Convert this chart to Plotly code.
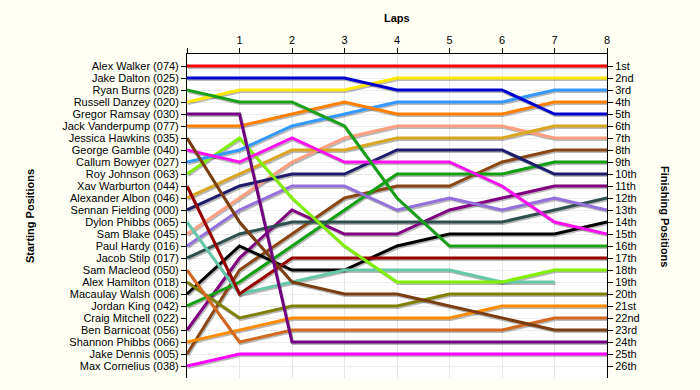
import plotly.graph_objects as go

laps = [0, 1, 2, 3, 4, 5, 6, 7, 8]
lap_labels = ["", "1", "2", "3", "4", "5", "6", "7", "8"]

starters = [
    "Alex Walker (074)", "Jake Dalton (025)", "Ryan Burns (028)", "Russell Danzey (020)",
    "Gregor Ramsay (030)", "Jack Vanderpump (077)", "Jessica Hawkins (035)", "George Gamble (040)",
    "Callum Bowyer (027)", "Roy Johnson (063)", "Xav Warburton (044)", "Alexander Albon (046)",
    "Sennan Fielding (000)", "Dylon Phibbs (065)", "Sam Blake (045)", "Paul Hardy (016)",
    "Jacob Stilp (017)", "Sam Macleod (050)", "Alex Hamilton (018)", "Macaulay Walsh (006)",
    "Jordan King (042)", "Craig Mitchell (022)", "Ben Barnicoat (056)", "Shannon Phibbs (066)",
    "Jake Dennis (005)", "Max Cornelius (038)",
]
finish_labels = [
    "1st", "2nd", "3rd", "4th", "5th", "6th", "7th", "8th", "9th", "10th", "11th", "12th", "13th",
    "14th", "15th", "16th", "17th", "18th", "19th", "20th", "21st", "22nd", "23rd", "24th", "25th", "26th",
]

# Position of each driver at the end of each lap (lap 0 = grid)
walker     = [1, 1, 1, 1, 1, 1, 1, 1, 1]
dalton     = [2, 2, 2, 2, 3, 3, 3, 5, 5]
burns      = [3, 4, 4, 6, 12, 16, 16, 16, 16]
danzey     = [4, 3, 3, 3, 2, 2, 2, 2, 2]
ramsay     = [5, 5, 24, 24, 24, 24, 24, 24, 24]
vanderpump = [6, 6, 5, 4, 5, 5, 5, 4, 4]
hawkins    = [7, 14, 19, 20, 20, 21, 22, 23, 23]
gamble     = [8, 9, 7, 9, 9, 9, 11, 14, 15]
bowyer     = [9, 8, 6, 5, 4, 4, 4, 3, 3]
johnson    = [10, 7, 12, 16, 19, 19, 19, 18, 18]
warburton  = [11, 20, 17, 17, 17, 17, 17, 17, 17]
albon      = [12, 10, 8, 8, 7, 7, 7, 6, 6]
fielding   = [13, 11, 10, 10, 8, 8, 8, 10, 10]
d_phibbs   = [14, 20, 19, 18, 18, 18, 19, 19]
blake      = [15, 12, 9, 7, 6, 6, 6, 7, 7]
hardy      = [16, 13, 11, 11, 13, 12, 13, 12, 13]
stilp      = [17, 15, 14, 14, 14, 14, 14, 13, 12]
macleod    = [18, 24, 23, 23, 23, 23, 23, 22, 22]
hamilton   = [19, 22, 21, 21, 21, 20, 20, 20, 20]
walsh      = [20, 16, 18, 18, 16, 15, 15, 15, 14]
king       = [21, 19, 16, 13, 10, 10, 10, 9, 9]
barnicoat  = [23, 17, 13, 15, 15, 13, 12, 11, 11]
s_phibbs   = [24, 23, 22, 22, 22, 22, 21, 21, 21]
dennis     = [25, 18, 15, 12, 11, 11, 9, 8, 8]
cornelius  = [26, 25, 25, 25, 25, 25, 25, 25, 25]

series = [
    (starters[0], walker, "#FF0000"),
    (starters[1], dalton, "#0000D0"),
    (starters[2], burns, "#18A018"),
    (starters[3], danzey, "#FFE800"),
    (starters[4], ramsay, "#700080"),
    (starters[5], vanderpump, "#FF8000"),
    (starters[6], hawkins, "#7A3C10"),
    (starters[7], gamble, "#FF10F0"),
    (starters[8], bowyer, "#3399FF"),
    (starters[9], johnson, "#80F000"),
    (starters[10], warburton, "#990000"),
    (starters[11], albon, "#DAA520"),
    (starters[12], fielding, "#1C1C6C"),
    (starters[13], d_phibbs, "#66C8AA"),
    (starters[14], blake, "#FFA080"),
    (starters[15], hardy, "#9370DB"),
    (starters[16], stilp, "#2F4F4F"),
    (starters[17], macleod, "#D2691E"),
    (starters[18], hamilton, "#808000"),
    (starters[19], walsh, "#000000"),
    (starters[20], king, "#10A010"),
    (starters[22], barnicoat, "#800080"),
    (starters[23], s_phibbs, "#FF8C00"),
    (starters[24], dennis, "#8B4513"),
    (starters[25], cornelius, "#FF00FF"),
]

fig = go.Figure()

# soft drop shadows
for name, pos, color in series:
    fig.add_trace(go.Scatter(
        x=[v + 0.02 for v in laps[:len(pos)]], y=[p + 0.13 for p in pos],
        mode="lines", line=dict(color="rgba(0,0,0,0.28)", width=3),
        hoverinfo="skip", showlegend=False,
    ))

for name, pos, color in reversed(series):
    fig.add_trace(go.Scatter(
        x=laps[:len(pos)], y=pos, mode="lines", name=name,
        line=dict(color=color, width=3), showlegend=False,
    ))

# invisible trace for the right axis
fig.add_trace(go.Scatter(x=[0], y=[1], yaxis="y2", mode="markers",
                         marker=dict(opacity=0), hoverinfo="skip", showlegend=False))

rows = list(range(1, 27))
font = dict(family="Liberation Sans, Arial, sans-serif", size=11, color="#000000")
bg = "#FFFFF6"

fig.update_layout(
    width=700, height=390,
    margin=dict(l=187, r=93, t=54, b=12),
    paper_bgcolor=bg,
    plot_bgcolor="#FFFFFF",
    font=font,
    xaxis=dict(
        side="top", range=[0, 8], tickvals=laps, ticktext=lap_labels,
        showgrid=True, gridcolor="#E6E6E6", gridwidth=1, zeroline=False,
        showline=True, linecolor="#000000", linewidth=1,
        ticks="outside", ticklen=5, tickcolor="#000000", tickfont=font,
    ),
    yaxis=dict(
        range=[27, 0], tickvals=rows, ticktext=starters,
        showgrid=True, gridcolor="#EDEDED", gridwidth=1, zeroline=False,
        showline=True, linecolor="#000000", linewidth=1,
        ticks="outside", ticklen=5, tickcolor="#000000", tickfont=font,
    ),
    yaxis2=dict(
        overlaying="y", side="right", range=[27, 0], tickvals=rows, ticktext=finish_labels,
        showgrid=False, zeroline=False,
        showline=True, linecolor="#000000", linewidth=1,
        ticks="outside", ticklen=5, tickcolor="#000000", tickfont=font,
    ),
    annotations=[
        dict(text="<b>Laps</b>", xref="paper", yref="paper", x=0.5, y=1, yshift=36,
             showarrow=False, font=font, xanchor="center", yanchor="middle"),
        dict(text="<b>Starting Positions</b>", xref="paper", yref="paper", x=0, xshift=-157, y=0.5,
             showarrow=False, font=font, textangle=-90, xanchor="center", yanchor="middle"),
        dict(text="<b>Finishing Positions</b>", xref="paper", yref="paper", x=1, xshift=58, y=0.5,
             showarrow=False, font=font, textangle=90, xanchor="center", yanchor="middle"),
    ],
)

fig.write_html(
    "out.html",
    config={"displayModeBar": False},
    post_script="document.body.style.margin='0';document.body.style.background='" + bg + "';",
)
